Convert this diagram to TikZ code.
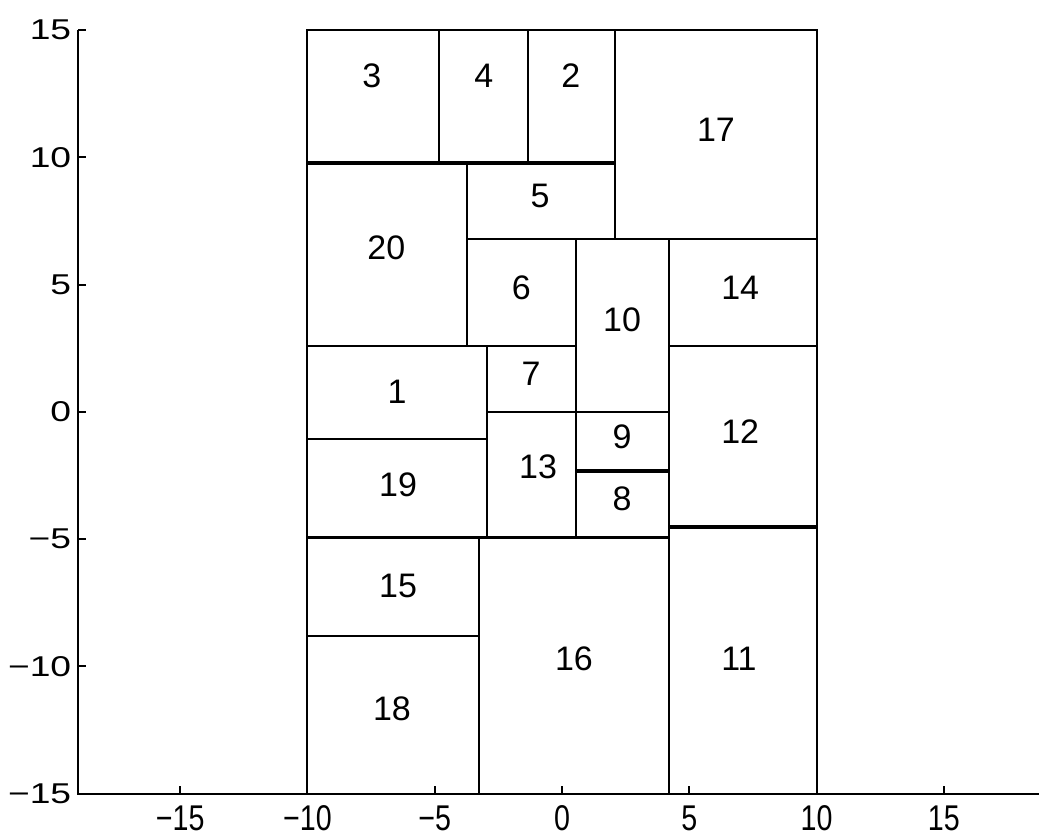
\documentclass[tikz,border=0pt]{standalone}
\usepackage{fontspec}
\setmainfont{Liberation Sans}
\usetikzlibrary{positioning}

\begin{document}
\begin{tikzpicture}[x=0.5cm, y=0.5cm,
    room/.style={draw=black, line width=1.1pt},
    axis/.style={draw=black, line width=1.1pt},
    lab/.style={font=\fontsize{19}{22}\selectfont, inner sep=0pt},
    tick/.style={font=\fontsize{16}{19}\selectfont, inner sep=1pt}
  ]
    \useasboundingbox (-22.08,-16.69) rectangle (18.74,16.18);
    % rooms of the floor plan
    \foreach \xa/\ya/\xb/\yb in {
        -10/9.8/-4.85/15, -4.85/9.8/-1.35/15, -1.35/9.8/2.1/15,
        2.1/6.8/10/15, -3.75/6.8/2.1/9.75, -10/2.6/-3.75/9.75,
        -3.75/2.6/0.55/6.8, 0.55/0/4.2/6.8, 4.2/2.6/10/6.8,
        -10/-1.05/-2.95/2.6, -2.95/0/0.55/2.6, -2.95/-4.9/0.55/0,
        0.55/-2.3/4.2/0, 0.55/-4.9/4.2/-2.35, 4.2/-4.5/10/2.6,
        -10/-4.9/-2.95/-1.05, -10/-8.8/-3.25/-4.95, -10/-15/-3.25/-8.8,
        -3.25/-15/4.2/-4.95, 4.2/-15/10/-4.55}
      \draw[room] (\xa,\ya) rectangle (\xb,\yb);
    \node[lab] (r3) at (-7.47,13.2) {3};
    \node[lab] (r4) at (-3.07,13.2) {4};
    \node[lab] (r2) at (0.35,13.2) {2};
    \node[lab] (r17) at (6.05,11.08) {17};
    \node[lab] (r5) at (-0.86,8.5) {5};
    \node[lab] (r20) at (-6.9,6.45) {20};
    \node[lab] (r6) at (-1.6,4.88) {6};
    \node[lab] (r10) at (2.36,3.63) {10};
    \node[lab] (r14) at (7.0,4.88) {14};
    \node[lab] (r1) at (-6.48,0.8) {1};
    \node[lab] (r7) at (-1.22,1.5) {7};
    \node[lab] (r9) at (2.36,-1.0) {9};
    \node[lab] (r12) at (7.0,-0.76) {12};
    \node[lab] (r13) at (-0.94,-2.14) {13};
    \node[lab] (r19) at (-6.44,-2.88) {19};
    \node[lab] (r8) at (2.36,-3.43) {8};
    \node[lab] (r15) at (-6.44,-6.84) {15};
    \node[lab] (r16) at (0.47,-9.7) {16};
    \node[lab] (r11) at (6.95,-9.7) {11};
    \node[lab] (r18) at (-6.68,-11.67) {18};
    % axes
    \coordinate (top) at (-19,15);
    \coordinate (orig) at (-19,-15);
    \coordinate (right) at (18.74,-15);
    \draw[axis] (top) -- (orig) -- (right);
    \foreach \v/\t in {-15/−15,-10/−10,-5/−5,0/0,5/5,10/10,15/15} {
      \draw[axis] (-19,\v) -- (-18.7,\v);
      \draw[axis] (\v,-15) -- (\v,-14.7);
      \node[tick, anchor=east] (yl\v) at (-19.2,\v) {\scalebox{1.3}[1]{\t}};
      \node[tick, anchor=north] (xl\v) at (\v,-15.4) {\scalebox{1}[1.25]{\t}};
    }
  \end{tikzpicture}
\end{document}
